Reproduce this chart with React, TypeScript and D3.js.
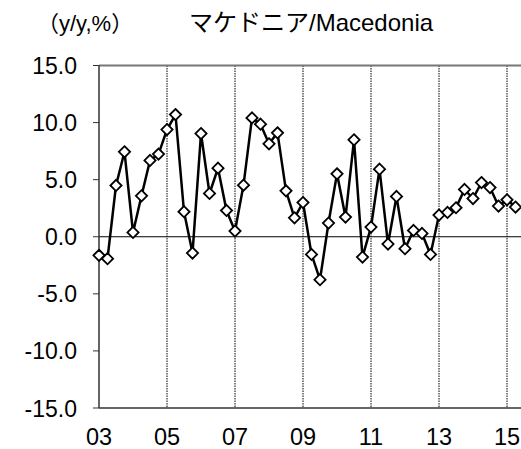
import React from "react";
import * as d3 from "d3";

const quarters = [
  "2003Q1","2003Q2","2003Q3","2003Q4","2004Q1","2004Q2","2004Q3","2004Q4",
  "2005Q1","2005Q2","2005Q3","2005Q4","2006Q1","2006Q2","2006Q3","2006Q4",
  "2007Q1","2007Q2","2007Q3","2007Q4","2008Q1","2008Q2","2008Q3","2008Q4",
  "2009Q1","2009Q2","2009Q3","2009Q4","2010Q1","2010Q2","2010Q3","2010Q4",
  "2011Q1","2011Q2","2011Q3","2011Q4","2012Q1","2012Q2","2012Q3","2012Q4",
  "2013Q1","2013Q2","2013Q3","2013Q4","2014Q1","2014Q2","2014Q3","2014Q4",
  "2015Q1","2015Q2",
];
const values = [
  -1.63, -1.92, 4.49, 7.44, 0.38, 3.59, 6.68, 7.24,
  9.39, 10.7, 2.19, -1.43, 9.04, 3.79, 6.01, 2.3,
  0.5, 4.52, 10.41, 9.86, 8.14, 9.1, 4.02, 1.66,
  3.0, -1.55, -3.76, 1.2, 5.51, 1.72, 8.49, -1.78,
  0.85, 5.92, -0.64, 3.53, -1.05, 0.55, 0.29, -1.55,
  1.9, 2.13, 2.54, 4.14, 3.35, 4.75, 4.31, 2.69,
  3.24, 2.6,
];
const yTicks = [15, 10, 5, 0, -5, -10, -15];
const xTickYears = [2003, 2005, 2007, 2009, 2011, 2013, 2015];
const xTickLabels = ["03", "05", "07", "09", "11", "13", "15"];
const unitLabel = "（y/y,%）";
const title = "マケドニア/Macedonia";

const W = 521;
const H = 449;
const plotLeft = 99;
const plotRight = 530;
const plotTop = 65.5;
const plotBottom = 408;

const font = "'Liberation Sans', Arial, 'Noto Sans CJK JP', sans-serif";

function toYear(q: string): number {
  const y = +q.slice(0, 4);
  const n = +q.slice(5);
  return y + (n - 1) / 4;
}

export default function App() {
  const x = d3.scaleLinear().domain([2003, 2015]).range([99, 507]);
  const y = d3.scaleLinear().domain([-15, 15]).range([plotBottom, plotTop]);
  const pts = quarters.map((q, i) => [x(toYear(q)), y(values[i])] as [number, number]);
  const line = d3.line<[number, number]>().x((d) => d[0]).y((d) => d[1]);
  const r = 5.6;
  const diamond = (cx: number, cy: number) =>
    `M${cx},${cy - r}L${cx + r},${cy}L${cx},${cy + r}L${cx - r},${cy}Z`;

  return (
    <svg
      width={W}
      height={H}
      style={{ position: "absolute", left: 0, top: 0, background: "#fff" }}
      fontFamily={font}
    >
      <rect x={0} y={0} width={W} height={H} fill="#fff" />
      {xTickYears.slice(1).map((yr) => (
        <line
          key={yr}
          x1={x(yr)}
          x2={x(yr)}
          y1={plotTop}
          y2={plotBottom}
          stroke="#000"
          strokeWidth={1}
          strokeDasharray="1.5,1"
        />
      ))}
      <line x1={plotLeft} x2={plotRight} y1={y(0)} y2={y(0)} stroke="#000" strokeWidth={1} />
      <line x1={plotLeft} x2={plotRight} y1={plotTop} y2={plotTop} stroke="#777" strokeWidth={2} />
      <line x1={plotLeft} x2={plotRight} y1={plotBottom} y2={plotBottom} stroke="#666" strokeWidth={2} />
      <line x1={plotLeft} x2={plotLeft} y1={plotTop} y2={plotBottom} stroke="#333" strokeWidth={1.5} />
      {yTicks.map((t) => (
        <g key={t}>
          <line x1={plotLeft - 6} x2={plotLeft} y1={y(t)} y2={y(t)} stroke="#333" strokeWidth={1} />
          <text x={77} y={y(t) + 8.5} textAnchor="end" fontSize={23} fill="#000">
            {t.toFixed(1)}
          </text>
        </g>
      ))}
      {xTickYears.map((yr, i) => (
        <text key={yr} x={x(yr)} y={445} textAnchor="middle" fontSize={23.5} fill="#000">
          {xTickLabels[i]}
        </text>
      ))}
      <path d={line(pts) || ""} fill="none" stroke="#000" strokeWidth={2.5} strokeLinejoin="round" />
      {pts.map((p, i) => (
        <path key={i} d={diamond(p[0], p[1])} fill="#fff" stroke="#000" strokeWidth={1.8} />
      ))}
      <text x={37} y={31} fontSize={22} fill="#000">
        {unitLabel}
      </text>
      <text x={189} y={31} fontSize={24} fill="#000">
        {title}
      </text>
    </svg>
  );
}
